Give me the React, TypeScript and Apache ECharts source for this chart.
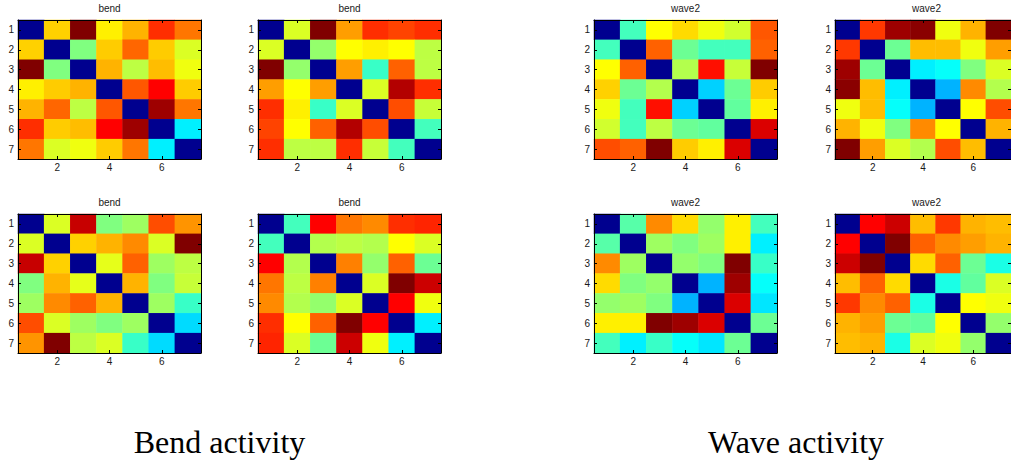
import React, { useEffect, useRef } from "react";
import * as echarts from "echarts";

// Row/column labels of each 7x7 matrix
const idxLabels = ["1", "2", "3", "4", "5", "6", "7"];

// Pairwise dissimilarity matrices (normalised 0..1), row-major
const bendTopA = [
  [0, 0.67, 1.0, 0.64, 0.7, 0.83, 0.76],
  [0.67, 0, 0.5, 0.675, 0.775, 0.675, 0.59],
  [1.0, 0.5, 0, 0.7, 0.56, 0.69, 0.61],
  [0.64, 0.675, 0.7, 0, 0.79, 0.875, 0.675],
  [0.7, 0.775, 0.56, 0.79, 0, 0.97, 0.76],
  [0.83, 0.675, 0.69, 0.875, 0.97, 0, 0.36],
  [0.76, 0.59, 0.61, 0.675, 0.76, 0.36, 0],
];
const bendTopB = [
  [0, 0.59, 1.0, 0.72, 0.83, 0.81, 0.83],
  [0.59, 0, 0.52, 0.625, 0.64, 0.625, 0.56],
  [1.0, 0.52, 0, 0.72, 0.43, 0.78, 0.56],
  [0.72, 0.625, 0.72, 0, 0.59, 0.95, 0.83],
  [0.83, 0.64, 0.43, 0.59, 0, 0.8, 0.57],
  [0.81, 0.625, 0.78, 0.95, 0.8, 0, 0.44],
  [0.83, 0.56, 0.56, 0.83, 0.57, 0.44, 0],
];
const waveTopA = [
  [0, 0.44, 0.625, 0.66, 0.61, 0.58, 0.79],
  [0.44, 0, 0.78, 0.48, 0.44, 0.44, 0.78],
  [0.625, 0.78, 0, 0.55, 0.86, 0.57, 1.0],
  [0.67, 0.48, 0.55, 0, 0.33, 0.48, 0.675],
  [0.61, 0.44, 0.86, 0.33, 0, 0.47, 0.64],
  [0.58, 0.44, 0.56, 0.48, 0.47, 0, 0.91],
  [0.8, 0.78, 1.0, 0.675, 0.64, 0.91, 0],
];
const waveTopB = [
  [0, 0.82, 0.97, 0.99, 0.61, 0.7, 1.0],
  [0.82, 0, 0.48, 0.69, 0.69, 0.61, 0.72],
  [0.97, 0.48, 0, 0.36, 0.38, 0.5, 0.59],
  [0.99, 0.69, 0.36, 0, 0.3, 0.74, 0.55],
  [0.61, 0.69, 0.38, 0.3, 0, 0.625, 0.8],
  [0.7, 0.61, 0.5, 0.74, 0.625, 0, 0.7],
  [1.0, 0.72, 0.59, 0.55, 0.8, 0.69, 0],
];
const bendBottomA = [
  [0, 0.59, 0.93, 0.5, 0.53, 0.8, 0.73],
  [0.59, 0, 0.67, 0.7, 0.74, 0.59, 1.0],
  [0.93, 0.67, 0, 0.6, 0.78, 0.53, 0.56],
  [0.5, 0.7, 0.6, 0, 0.7, 0.5, 0.57],
  [0.53, 0.74, 0.78, 0.7, 0, 0.53, 0.43],
  [0.8, 0.59, 0.53, 0.5, 0.53, 0, 0.34],
  [0.73, 1.0, 0.56, 0.59, 0.43, 0.34, 0],
];
const bendBottomB = [
  [0, 0.44, 0.875, 0.76, 0.74, 0.83, 0.84],
  [0.44, 0, 0.55, 0.56, 0.55, 0.625, 0.59],
  [0.875, 0.55, 0, 0.75, 0.52, 0.78, 0.48],
  [0.76, 0.56, 0.75, 0, 0.59, 1.0, 0.925],
  [0.74, 0.55, 0.52, 0.59, 0, 0.875, 0.61],
  [0.83, 0.625, 0.78, 1.0, 0.875, 0, 0.36],
  [0.84, 0.59, 0.48, 0.925, 0.61, 0.36, 0],
];
const waveBottomA = [
  [0, 0.46, 0.74, 0.66, 0.52, 0.64, 0.44],
  [0.46, 0, 0.53, 0.5, 0.53, 0.64, 0.36],
  [0.74, 0.53, 0, 0.52, 0.5, 1.0, 0.43],
  [0.66, 0.5, 0.52, 0, 0.3, 0.97, 0.38],
  [0.52, 0.53, 0.5, 0.3, 0, 0.91, 0.35],
  [0.64, 0.64, 1.0, 0.97, 0.91, 0, 0.48],
  [0.44, 0.36, 0.43, 0.38, 0.35, 0.48, 0],
];
const waveBottomB = [
  [0, 0.875, 0.925, 0.69, 0.82, 0.7, 0.69],
  [0.875, 0, 1.0, 0.78, 0.74, 0.72, 0.7],
  [0.925, 1.0, 0, 0.66, 0.78, 0.48, 0.4],
  [0.69, 0.78, 0.66, 0, 0.4, 0.47, 0.59],
  [0.82, 0.74, 0.78, 0.4, 0, 0.625, 0.61],
  [0.7, 0.72, 0.48, 0.47, 0.625, 0, 0.52],
  [0.69, 0.7, 0.4, 0.59, 0.61, 0.52, 0],
];

const panelTitles = ["bend", "bend", "wave2", "wave2", "bend", "bend", "wave2", "wave2"];
const panelData = [bendTopA, bendTopB, waveTopA, waveTopB, bendBottomA, bendBottomB, waveBottomA, waveBottomB];
const groupCaptions = ["Bend activity", "Wave activity"];

// Jet colour map, stops evenly spaced over 0..1
const jet = ["#00008f", "#0000ff", "#0080ff", "#00ffff", "#80ff80", "#ffff00", "#ff8000", "#ff0000", "#800000"];

// Layout of the panels
const colLefts = [18, 258, 594, 835];
const rowTops = [20, 214];
const PW = 183;
const PH = 139;

const tickFont = { fontFamily: "Liberation Sans, Arial, sans-serif", fontSize: 10, color: "#1a1a1a" };

function buildOption() {
  const grid: any[] = [];
  const xAxis: any[] = [];
  const yAxis: any[] = [];
  const series: any[] = [];
  const graphic: any[] = [];

  panelData.forEach((m, p) => {
    const left = colLefts[p % 4];
    const top = rowTops[Math.floor(p / 4)];
    grid.push({ left, top, width: PW, height: PH, containLabel: false });
    const line = { show: true, lineStyle: { color: "#000", width: 1 } };
    const evenOnly = (i: number) => i % 2 === 1;
    // bottom
    xAxis.push({
      type: "category", gridIndex: p, data: idxLabels, position: "bottom", z: 10,
      axisLine: line,
      axisTick: { show: true, inside: true, length: 3, alignWithLabel: true, interval: evenOnly, lineStyle: { color: "#000" } },
      axisLabel: { show: true, interval: evenOnly, margin: 3, ...tickFont },
      splitLine: { show: false },
    });
    // top (frame + ticks)
    xAxis.push({
      type: "category", gridIndex: p, data: idxLabels, position: "top", z: 10,
      axisLine: line,
      axisTick: { show: true, inside: true, length: 3, alignWithLabel: true, interval: evenOnly, lineStyle: { color: "#000" } },
      axisLabel: { show: false },
      splitLine: { show: false },
    });
    // left
    yAxis.push({
      type: "category", gridIndex: p, data: idxLabels, inverse: true, position: "left", z: 10,
      axisLine: line,
      axisTick: { show: true, inside: true, length: 3, alignWithLabel: true, interval: 0, lineStyle: { color: "#000" } },
      axisLabel: { show: true, interval: 0, margin: 4, ...tickFont },
      splitLine: { show: false },
    });
    // right (frame + ticks)
    yAxis.push({
      type: "category", gridIndex: p, data: idxLabels, inverse: true, position: "right", z: 10,
      axisLine: line,
      axisTick: { show: true, inside: true, length: 3, alignWithLabel: true, interval: 0, lineStyle: { color: "#000" } },
      axisLabel: { show: false },
      splitLine: { show: false },
    });

    const data: number[][] = [];
    m.forEach((row, r) => row.forEach((v, c) => data.push([c, r, v])));
    series.push({
      type: "heatmap",
      xAxisIndex: p * 2,
      yAxisIndex: p * 2,
      data,
      itemStyle: { borderWidth: 0 },
      emphasis: { disabled: true },
      silent: true,
    });

    graphic.push({
      type: "text",
      x: left + PW / 2,
      y: top - 12,
      style: {
        text: panelTitles[p],
        fontFamily: "Liberation Sans, Arial, sans-serif",
        fontSize: 10,
        fill: "#1a1a1a",
        textAlign: "center",
        textVerticalAlign: "middle",
      },
    });
  });

  const captionX = [(colLefts[0] + colLefts[1] + PW) / 2 - 10, (colLefts[2] + colLefts[3] + PW) / 2 - 10];
  groupCaptions.forEach((t, i) => {
    graphic.push({
      type: "text",
      x: captionX[i],
      y: 442,
      style: {
        text: t,
        fontFamily: "Liberation Serif, Times New Roman, serif",
        fontSize: 32,
        fill: "#000",
        textAlign: "center",
        textVerticalAlign: "middle",
      },
    });
  });

  return {
    animation: false,
    backgroundColor: "#ffffff",
    grid,
    xAxis,
    yAxis,
    visualMap: {
      type: "continuous",
      show: false,
      min: 0,
      max: 1,
      dimension: 2,
      seriesIndex: series.map((_, i) => i),
      inRange: { color: jet },
    },
    series,
    graphic,
  };
}

export default function App() {
  const ref = useRef<HTMLDivElement>(null);
  useEffect(() => {
    if (!ref.current) return;
    const chart = echarts.init(ref.current, undefined, { renderer: "svg" });
    chart.setOption(buildOption() as any);
    return () => chart.dispose();
  }, []);
  return (
    <div
      ref={ref}
      style={{ position: "fixed", left: 0, top: 0, width: 1011, height: 463, background: "#fff" }}
    />
  );
}
